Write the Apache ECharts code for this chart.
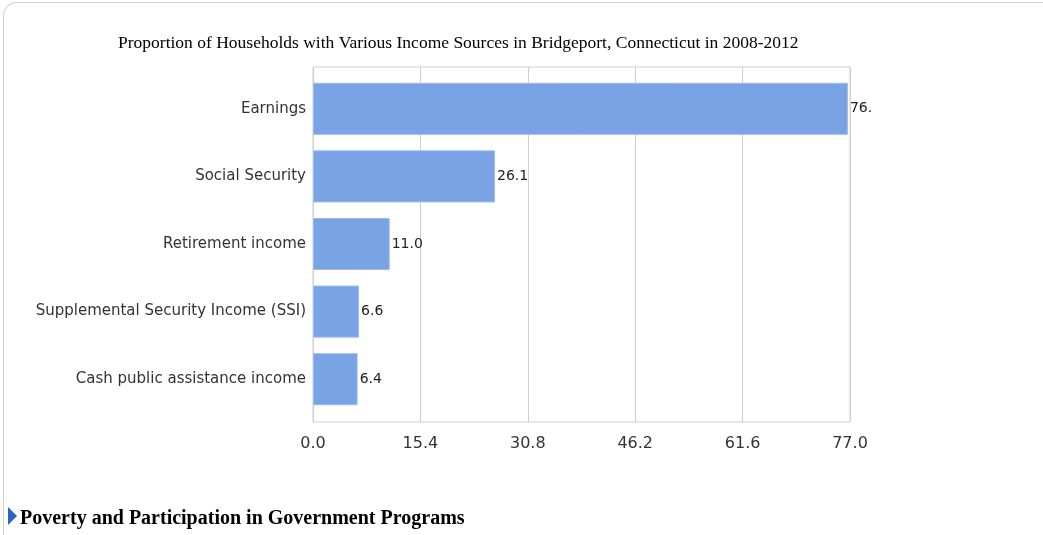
<!DOCTYPE html>
<html>
<head>
<meta charset="utf-8">
<script src="https://cdn.jsdelivr.net/npm/echarts@6/dist/echarts.min.js"></script>
<style>
  html, body { margin: 0; padding: 0; background: #fff; width: 1043px; height: 535px; overflow: hidden; }
  #frame {
    position: absolute; left: 3px; top: 2px; width: 1100px; height: 600px;
    border-top: 1px solid #d0d0d0; border-left: 1px solid #d0d0d0;
    border-top-left-radius: 14px; box-sizing: border-box;
  }
  #chart { position: absolute; left: 0; top: 0; width: 873px; height: 535px; }
  #heading {
    position: absolute; left: 8px; top: 505px; margin: 0; line-height: 24px;
    font-family: "Liberation Serif", "DejaVu Serif", serif; font-weight: bold; font-size: 20px;
    color: #000; white-space: nowrap;
  }
  #heading .arrow {
    display: inline-block; width: 0; height: 0; vertical-align: -1px; margin-right: 3px;
    border-top: 9px solid transparent; border-bottom: 9px solid transparent;
    border-left: 9px solid #2a62c8;
  }
</style>
</head>
<body>
<div id="frame"></div>
<div id="chart"></div>
<h2 id="heading"><span class="arrow"></span>Poverty and Participation in Government Programs</h2>
<script>
const chartTitle = 'Proportion of Households with Various Income Sources in Bridgeport, Connecticut in 2008-2012';
const categories = [
  'Earnings',
  'Social Security',
  'Retirement income',
  'Supplemental Security Income (SSI)',
  'Cash public assistance income'
];
const values = [76.7, 26.1, 11.0, 6.6, 6.4];
const axisMin = 0;
const axisMax = 77.0;
const axisStep = 15.4;

const chart = echarts.init(document.getElementById('chart'), null, { renderer: 'canvas' });
const sans = '"DejaVu Sans", Verdana, sans-serif';

// Outer grid draws the plot frame, the vertical grid lines and the value ticks;
// the inner grid is inset vertically so the category bands leave a margin at top and bottom.
const plotLeft = 313, plotRight = 23;

chart.setOption({
  animation: false,
  backgroundColor: 'transparent',
  title: {
    text: chartTitle,
    left: 118,
    top: 34,
    padding: 0,
    textStyle: {
      fontFamily: '"Liberation Serif", "Times New Roman", serif',
      fontSize: 17.5,
      fontWeight: 'normal',
      color: '#000'
    }
  },
  grid: [
    {
      left: plotLeft, right: plotRight, top: 67, bottom: 113,
      show: true, borderColor: '#cfcfcf', borderWidth: 1, containLabel: false
    },
    {
      left: plotLeft, right: plotRight, top: 75, bottom: 122,
      show: false, containLabel: false
    }
  ],
  xAxis: [
    {
      gridIndex: 0,
      type: 'value',
      min: axisMin,
      max: axisMax,
      interval: axisStep,
      axisLine: { show: false },
      axisTick: { show: false },
      splitLine: { show: true, lineStyle: { color: '#cfcfcf', width: 1 } },
      axisLabel: {
        margin: 14,
        fontFamily: sans,
        fontSize: 16,
        color: '#333',
        formatter: v => v.toFixed(1)
      }
    },
    {
      gridIndex: 1,
      type: 'value',
      min: axisMin,
      max: axisMax,
      show: false
    }
  ],
  yAxis: [
    {
      gridIndex: 0,
      type: 'value',
      show: false
    },
    {
      gridIndex: 1,
      type: 'category',
      data: categories,
      inverse: true,
      axisLine: { show: false },
      axisTick: { show: false },
      splitLine: { show: false },
      axisLabel: {
        margin: 7,
        fontFamily: sans,
        fontSize: 15,
        color: '#333'
      }
    }
  ],
  series: [{
    type: 'bar',
    xAxisIndex: 1,
    yAxisIndex: 1,
    data: values,
    barCategoryGap: '23%',
    itemStyle: { color: '#79a3e5', borderColor: '#9dbcee', borderWidth: 1 },
    label: {
      show: true,
      position: 'right',
      distance: 2,
      fontFamily: sans,
      fontSize: 14,
      color: '#222',
      formatter: p => p.value.toFixed(1)
    }
  }]
});
</script>
</body>
</html>
